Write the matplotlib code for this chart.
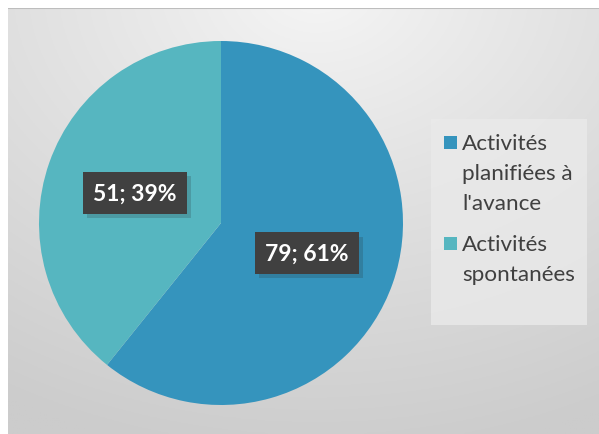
import numpy as np
import matplotlib
matplotlib.use("Agg")
import matplotlib.pyplot as plt
from matplotlib.patches import Rectangle
import matplotlib.patheffects as pe

categories = ["Activités\nplanifiées à\nl'avance", "Activités\nspontanées"]
values = [79, 51]
percents = ["61%", "39%"]
colors = ["#3594BD", "#56B6C0"]

W, H = 599, 435
fig = plt.figure(figsize=(W / 100, H / 100), dpi=100)
fig.patch.set_facecolor("white")
FONT = ["Lato", "DejaVu Sans"]

# background gradient panel
bx0, by_top = 8, 9
bg_ax = fig.add_axes([bx0 / W, 0, 1 - bx0 / W, (H - by_top) / H])
bg_ax.set_axis_off()
ny, nx = 200, 300
yy, xx = np.mgrid[0:ny, 0:nx]
cx, cy = nx * 0.52, -ny * 0.05
d = np.sqrt(((xx - cx) / nx) ** 2 + ((yy - cy) / ny) ** 2 * 0.9)
light, dark = 0.965, 0.80
v = light - (light - dark) * np.clip(d / 1.05, 0, 1) ** 0.9
img = np.dstack([v, v, v])
bg_ax.imshow(img, extent=[0, 1, 0, 1], aspect="auto", origin="upper")
bg_ax.set_xlim(0, 1)
bg_ax.set_ylim(0, 1)
bg_ax.plot([0, 1], [0.999, 0.999], color="#BDBDBD", lw=1.5)

# pie
cxp, cyp, r = 221, 224, 182
pie_ax = fig.add_axes([(cxp - r) / W, (H - cyp - r) / H, 2 * r / W, 2 * r / H])
pie_ax.set_axis_off()
wedges, _ = pie_ax.pie(values, colors=colors, startangle=90, counterclock=False,
                       radius=1, wedgeprops=dict(linewidth=0))
pie_ax.set_xlim(-1, 1)
pie_ax.set_ylim(-1, 1)
pie_ax.set_aspect("auto")

for w, val, pct in zip(wedges, values, percents):
    ang = np.deg2rad((w.theta1 + w.theta2) / 2)
    x, y = 0.5 * np.cos(ang), 0.5 * np.sin(ang)
    label = f"{val}; {pct}"
    t = pie_ax.text(x, y, label, ha="center", va="center", fontsize=16.5,
                    fontweight="bold", color="white", family=FONT,
                    bbox=dict(boxstyle="square,pad=0.45", fc="#404040", ec="none"))
    t.get_bbox_patch().set_path_effects([
        pe.SimplePatchShadow(offset=(3, -3), shadow_rgbFace="#202020", alpha=0.18),
        pe.Normal()])

# legend
lx0, ly0, lx1, ly1 = 431, 120, 587, 326
fig.patches.append(Rectangle((lx0 / W, 1 - ly1 / H), (lx1 - lx0) / W, (ly1 - ly0) / H,
                             transform=fig.transFigure, fc="#EAEAEA", ec="none", alpha=0.8))
entry_tops = [143, 244]
for cat, col, ytop in zip(categories, colors, entry_tops):
    fig.patches.append(Rectangle((444 / W, 1 - (ytop + 7) / H), 13 / W, 13 / H,
                                 transform=fig.transFigure, fc=col, ec="none"))
    fig.text(462 / W, 1 - (ytop - 9) / H, cat, ha="left", va="top", fontsize=16.2,
             color="#404040", family=FONT, linespacing=1.62)

fig.savefig("out.png", dpi=100)
